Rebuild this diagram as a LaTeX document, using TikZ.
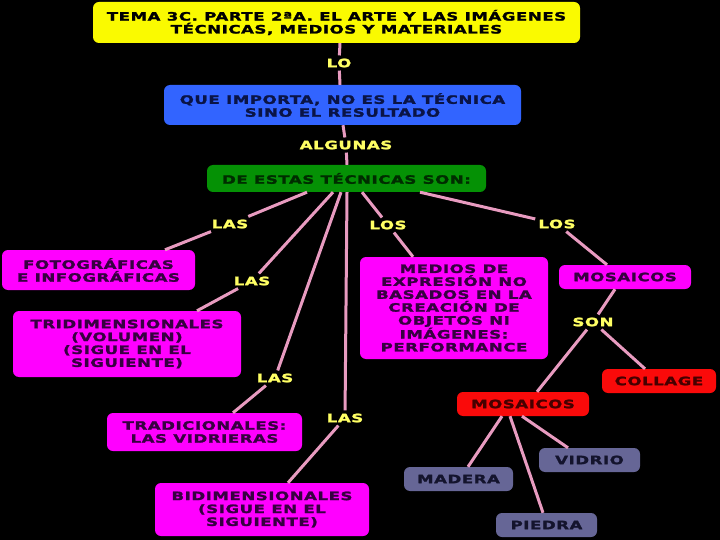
\documentclass[tikz,border=0pt]{standalone}
\usepackage{fontspec}
\setmainfont{DejaVu Sans}[FakeStretch=1.44,LetterSpace=5,BoldFeatures={FakeBold=2}]
\begin{document}
\begin{tikzpicture}[x=1pt,y=-1pt,
  box/.style={rounded corners=6pt, inner sep=1pt, align=center,
    font=\fontsize{11.5}{12.9}\selectfont\bfseries},
  lbl/.style={text=lblyellow, inner sep=3pt, font=\fontsize{11.5}{12.9}\selectfont\bfseries},
  conn/.style={draw=linkpink, line width=3pt}]
\definecolor{linkpink}{RGB}{232,155,192}
\definecolor{lblyellow}{RGB}{255,255,100}
\definecolor{ttlyellow}{RGB}{250,250,0}
\definecolor{bxblue}{RGB}{50,100,255}
\definecolor{bxgreen}{RGB}{5,145,5}
\definecolor{bxmag}{RGB}{255,0,255}
\definecolor{bxred}{RGB}{250,10,10}
\definecolor{bxgray}{RGB}{102,102,150}
\definecolor{txmag}{RGB}{55,0,65}
\definecolor{txblue}{RGB}{10,20,70}
\definecolor{txgreen}{RGB}{0,45,0}
\definecolor{txred}{RGB}{70,0,0}
\definecolor{txgray}{RGB}{20,20,45}
\fill[black] (0,0) rectangle (720,540);
\useasboundingbox (0,0) rectangle (720,540);

% boxes
\node[box, fill=ttlyellow, text=black, minimum width=487pt, minimum height=41pt] (title) at (336.5,22.5)
  {TEMA 3C. PARTE 2ªA. EL ARTE Y LAS IMÁGENES\\TÉCNICAS, MEDIOS Y MATERIALES};
\node[box, fill=bxblue, text=txblue, minimum width=357pt, minimum height=40pt] (blue) at (342.5,105)
  {QUE IMPORTA, NO ES LA TÉCNICA\\SINO EL RESULTADO};
\node[box, fill=bxgreen, text=txgreen, minimum width=279pt, minimum height=27pt] (green) at (346.5,178.5)
  {DE ESTAS TÉCNICAS SON:};
\node[box, fill=bxmag, text=txmag, minimum width=193pt, minimum height=40pt] (foto) at (98.5,270)
  {FOTOGRÁFICAS\\E INFOGRÁFICAS};
\node[box, fill=bxmag, text=txmag, minimum width=228pt, minimum height=66pt] (tri) at (127,344)
  {TRIDIMENSIONALES\\(VOLUMEN)\\(SIGUE EN EL\\SIGUIENTE)};
\node[box, fill=bxmag, text=txmag, minimum width=195pt, minimum height=38pt] (trad) at (204.5,432)
  {TRADICIONALES:\\LAS VIDRIERAS};
\node[box, fill=bxmag, text=txmag, minimum width=214pt, minimum height=53pt] (bidi) at (262,509.5)
  {BIDIMENSIONALES\\(SIGUE EN EL\\SIGUIENTE)};
\node[box, fill=bxmag, text=txmag, minimum width=188pt, minimum height=102pt] (medios) at (454,308)
  {MEDIOS DE\\EXPRESIÓN NO\\BASADOS EN LA\\CREACIÓN DE\\OBJETOS NI\\IMÁGENES:\\PERFORMANCE};
\node[box, fill=bxmag, text=txmag, minimum width=132pt, minimum height=24pt] (mos1) at (625,277)
  {MOSAICOS};
\node[box, fill=bxred, text=txred, minimum width=114pt, minimum height=24pt] (collage) at (659,381)
  {COLLAGE};
\node[box, fill=bxred, text=txred, minimum width=132pt, minimum height=24pt] (mos2) at (523,404)
  {MOSAICOS};
\node[box, fill=bxgray, text=txgray, minimum width=101pt, minimum height=24pt] (vidrio) at (589.5,460)
  {VIDRIO};
\node[box, fill=bxgray, text=txgray, minimum width=109pt, minimum height=24pt] (madera) at (458.5,479)
  {MADERA};
\node[box, fill=bxgray, text=txgray, minimum width=101pt, minimum height=24pt] (piedra) at (546.5,525)
  {PIEDRA};

% labels
\node[lbl] (lo) at (339,63) {LO};
\node[lbl] (algunas) at (346,145) {ALGUNAS};
\node[lbl] (las1) at (230,224) {LAS};
\node[lbl] (las2) at (252,281) {LAS};
\node[lbl] (las3) at (275,378) {LAS};
\node[lbl] (las4) at (345,418) {LAS};
\node[lbl] (los1) at (388,225) {LOS};
\node[lbl] (los2) at (557,224) {LOS};
\node[lbl] (son) at (593,322) {SON};

% connectors
\path[conn] ([xshift=3.5pt]title.south) -- (lo);
\path[conn] (lo) -- ([xshift=-2.5pt]blue.north);
\path[conn] ([xshift=0.5pt]blue.south) -- (algunas);
\path[conn] (algunas) -- ([xshift=0.5pt]green.north);
\path[conn] ([xshift=-39.5pt]green.south) -- (las1);
\path[conn] (las1) -- ([xshift=66.5pt]foto.north);
\path[conn] ([xshift=-13.5pt]green.south) -- (las2);
\path[conn] (las2) -- ([xshift=70pt]tri.north);
\path[conn] ([xshift=-5.5pt]green.south) -- (las3);
\path[conn] (las3) -- ([xshift=28.5pt]trad.north);
\path[conn] ([xshift=0.5pt]green.south) -- (las4);
\path[conn] (las4) -- ([xshift=26pt]bidi.north);
\path[conn] ([xshift=15.5pt]green.south) -- (los1);
\path[conn] (los1) -- ([xshift=-41pt]medios.north);
\path[conn] ([xshift=73.5pt]green.south) -- (los2);
\path[conn] (los2) -- ([xshift=-18pt]mos1.north);
\path[conn] ([xshift=-10pt]mos1.south) -- (son);
\path[conn] (son) -- ([xshift=14pt]mos2.north);
\path[conn] (son) -- ([xshift=-14pt]collage.north);
\path[conn] ([xshift=-21pt]mos2.south) -- ([xshift=9.5pt]madera.north);
\path[conn] ([xshift=-13pt]mos2.south) -- ([xshift=-3.5pt]piedra.north);
\path[conn] ([xshift=-1pt]mos2.south) -- ([xshift=-21.5pt]vidrio.north);
\end{tikzpicture}
\end{document}
